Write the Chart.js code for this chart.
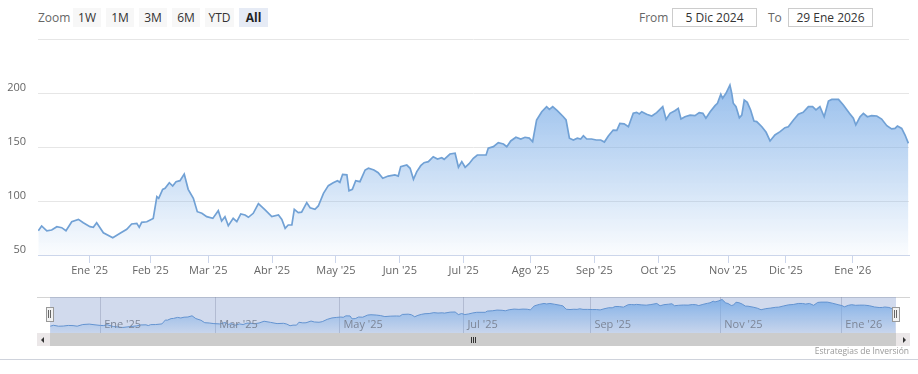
<!DOCTYPE html>
<html>
<head>
<meta charset="utf-8">
<script src="https://cdn.jsdelivr.net/npm/chart.js@4.4.1/dist/chart.umd.min.js"></script>
<style>
html,body{margin:0;padding:0;background:#fff;}
body{width:918px;height:374px;position:relative;overflow:hidden;font-family:"Open Sans",Arial,sans-serif;}
.lbl{position:absolute;top:8px;height:19px;line-height:19px;color:#666;font-size:12px;}
.btn{position:absolute;top:8px;height:19px;line-height:19px;background:#f7f7f7;color:#333;font-size:12px;text-align:center;}
.btn.sel{background:#e6ebf5;font-weight:bold;color:#222;}
.inp{position:absolute;top:8px;height:17px;line-height:17px;border:1px solid #cccccc;color:#333;font-size:12px;text-align:center;background:#fff;}
canvas{position:absolute;}
.bar{position:absolute;}
</style>
</head>
<body>
<div class="lbl" style="left:38px;">Zoom</div>
<div class="btn" style="left:73px;width:28px;">1W</div>
<div class="btn" style="left:106px;width:28px;">1M</div>
<div class="btn" style="left:139px;width:28px;">3M</div>
<div class="btn" style="left:172px;width:28px;">6M</div>
<div class="btn" style="left:205px;width:29px;">YTD</div>
<div class="btn sel" style="left:239px;width:29px;">All</div>
<div class="lbl" style="left:639px;">From</div>
<div class="inp" style="left:672px;width:83px;">5 Dic 2024</div>
<div class="lbl" style="left:768px;">To</div>
<div class="inp" style="left:788px;width:83px;">29 Ene 2026</div>

<canvas id="main" width="918" height="292" style="left:0;top:0;"></canvas>

<!-- navigator -->
<div class="bar" style="left:37px;top:297px;width:873px;height:1px;background:#d4d4d4;"></div>
<canvas id="nav" width="846" height="36" style="left:50px;top:297px;"></canvas>
<div class="bar" style="left:46px;top:307px;width:6px;height:13px;background:#f2f2f2;border:1px solid #999;"></div>
<div class="bar" style="left:48px;top:310px;width:1px;height:8px;background:#666;"></div>
<div class="bar" style="left:50px;top:310px;width:1px;height:8px;background:#666;"></div>
<div class="bar" style="left:892px;top:307px;width:6px;height:13px;background:#f2f2f2;border:1px solid #999;"></div>
<div class="bar" style="left:894px;top:310px;width:1px;height:8px;background:#666;"></div>
<div class="bar" style="left:896px;top:310px;width:1px;height:8px;background:#666;"></div>

<!-- scrollbar -->
<div class="bar" style="left:37px;top:333px;width:13px;height:13px;background:#ebe7e8;"></div>
<div class="bar" style="left:41px;top:337px;width:0;height:0;border-top:3px solid transparent;border-bottom:3px solid transparent;border-right:3px solid #333;"></div>
<div class="bar" style="left:50px;top:333px;width:846px;height:13px;background:#cccccc;"></div>
<div class="bar" style="left:471px;top:337px;width:1px;height:6px;background:#333;"></div>
<div class="bar" style="left:473px;top:337px;width:1px;height:6px;background:#333;"></div>
<div class="bar" style="left:475px;top:337px;width:1px;height:6px;background:#333;"></div>
<div class="bar" style="left:896px;top:333px;width:14px;height:13px;background:#ebe7e8;"></div>
<div class="bar" style="left:903px;top:337px;width:0;height:0;border-top:3px solid transparent;border-bottom:3px solid transparent;border-left:3px solid #333;"></div>

<div class="bar" style="left:0;top:359px;width:918px;height:1px;background:#cfd3dc;"></div>
<div class="bar" style="right:9px;top:345px;font-size:8.5px;color:#999;">Estrategias de Inversión</div>

<script>
// ---- data (x = trading session number since 5 Dic 2024, y = price) ----
const sessionIndex = [
  0.1,1.2,2.9,4.5,6.2,7.8,9.2,11.1,13.3,14.9,17.1,18.2,19.3,21.5,24.6,27.0,29.2,30.8,32.5,33.3,
  34.1,35.8,37.9,39.1,39.7,41.0,41.8,43.2,44.3,45.4,46.7,48.1,49.4,51.1,52.4,53.9,55.5,57.5,59.3,60.4,
  61.5,62.6,64.2,65.4,66.7,68.1,69.2,70.8,72.5,74.7,76.9,79.1,80.2,81.3,82.3,83.5,84.3,85.6,86.7,88.4,
  89.5,91.1,92.2,93.9,95.5,97.1,98.5,99.3,100.2,101.6,102.3,103.4,104.5,105.9,107.6,108.7,110.5,111.9,113.4,115.2,
  117.4,118.5,119.3,121.3,122.4,123.5,124.6,125.9,127.0,128.4,130.0,131.4,132.8,133.6,135.5,137.2,138.3,139.4,140.5,141.8,
  143.2,144.5,147.4,148.1,149.8,151.4,153.1,154.2,155.5,157.2,158.8,160.2,161.6,162.7,164.0,165.7,167.3,168.2,169.3,170.8,
  172.8,173.7,174.8,176.1,177.4,178.5,179.4,180.5,182.1,183.6,185.1,186.3,187.6,189.2,190.4,191.4,192.8,194.2,195.8,196.9,
  197.8,198.6,200.2,201.9,203.5,205.5,206.6,207.9,209.5,210.6,211.5,212.8,214.5,216.1,217.5,218.7,219.7,221.1,222.7,223.5,
  224.6,225.2,226.3,227.6,228.2,228.7,229.6,230.7,231.5,232.3,233.3,234.4,235.5,236.4,238.1,239.5,240.8,242.4,244.1,245.7,
  246.8,248.5,250.1,251.7,253.4,254.8,255.9,257.2,258.6,260.0,261.1,263.3,264.9,266.9,268.2,269.0,270.4,271.5,272.8,274.2,
  275.9,277.5,279.2,280.8,281.9,282.7,284.1,285.2,286.3
];
const price = [
  72.5,76.9,72.3,73.1,76.2,75.3,72.5,80.8,83.0,79.9,76.2,75.6,79.9,70.6,66.0,70.1,73.8,78.7,79.3,75.6,
  80.2,80.8,83.9,104.0,102.5,110.8,111.7,116.9,113.9,117.9,118.8,125.0,110.8,102.5,90.1,88.6,85.5,83.9,91.0,81.5,
  85.5,77.1,83.9,80.8,88.0,87.0,84.9,88.6,97.5,91.7,85.5,87.0,83.0,74.7,77.8,77.8,92.3,89.2,89.7,98.5,
  93.8,92.3,95.4,107.1,114.2,116.9,118.8,117.3,124.7,124.2,109.5,110.8,118.8,117.9,128.7,130.3,128.7,126.2,121.0,123.1,
  124.1,123.1,131.8,133.3,130.3,120.1,127.2,132.7,135.5,136.4,141.0,138.9,140.1,138.6,143.5,144.2,131.2,136.4,131.2,134.5,
  139.5,142.6,142.6,148.8,150.3,154.0,152.8,150.3,155.6,159.0,157.4,159.0,158.2,154.9,175.0,182.7,187.3,184.9,187.3,183.6,
  178.0,175.0,158.1,156.5,158.1,157.4,160.5,157.4,157.4,156.5,156.5,154.6,160.2,165.7,165.4,171.9,171.5,168.8,181.2,182.1,
  180.6,182.7,180.3,178.7,181.8,187.3,175.6,181.2,183.6,185.8,175.9,178.0,179.5,179.0,181.8,181.2,176.6,182.7,188.3,190.5,
  198.8,195.1,199.7,207.4,199.7,190.5,187.3,177.1,179.6,193.5,191.4,184.3,174.1,173.5,168.8,163.6,155.6,161.1,164.2,167.9,
  168.8,175.0,180.3,182.1,187.3,187.3,184.3,187.3,178.0,192.6,194.1,194.1,188.9,181.2,176.6,170.4,178.0,181.2,178.0,179.0,
  178.7,175.9,169.7,166.7,167.2,169.4,167.2,161.1,153.4
];
const monthTickIndex = [17,37,56,77,98,119,140,162,183,204,227,246,268];
const monthTickLabels = ["Ene '25","Feb '25","Mar '25","Abr '25","May '25","Jun '25","Jul '25","Ago '25","Sep '25","Oct '25","Nov '25","Dic '25","Ene '26"];
const navTickIndex = [17,56,98,140,183,227,268];
const navTickLabels = ["Ene '25","Mar '25","May '25","Jul '25","Sep '25","Nov '25","Ene '26"];
const yTickValues = [50,100,150,200,250];

const points = sessionIndex.map((x,i)=>({x:x, y:price[i]}));
const FONT = '"Open Sans", Arial, sans-serif';

function areaGradient(ctx, top, bottom, a0, a1){
  const g = ctx.createLinearGradient(0, top, 0, bottom);
  g.addColorStop(0, 'rgba(118,170,230,'+a0+')');
  g.addColorStop(1, 'rgba(118,170,230,'+a1+')');
  return g;
}

new Chart(document.getElementById('main'), {
  type: 'line',
  data: { datasets: [{
    data: points,
    borderColor: '#71a1d5',
    borderWidth: 1.7,
    pointRadius: 0,
    tension: 0,
    fill: 'start',
    backgroundColor: (c) => {
      const a = c.chart.chartArea;
      if (!a) return 'rgba(118,170,230,0.4)';
      return areaGradient(c.chart.ctx, a.top, a.bottom, 0.95, 0.03);
    }
  }]},
  options: {
    responsive: false, animation: false, devicePixelRatio: 1,
    layout: { padding: { top: 39, right: 9, left: 0, bottom: 0 } },
    plugins: { legend: { display: false }, tooltip: { enabled: false } },
    scales: {
      x: {
        type: 'linear', min: 0, max: 286.5,
        afterBuildTicks: s => { s.ticks = monthTickIndex.map(v => ({ value: v })); },
        afterFit: s => { s.height = 37; },
        grid: { drawOnChartArea: false, drawTicks: true, tickLength: 8, color: '#ccd6eb', tickColor: '#ccd6eb' },
        border: { display: true, color: '#ccd6eb' },
        ticks: { autoSkip: false, maxRotation: 0, padding: 1, color: '#666', font: { size: 11, family: FONT },
          callback: v => { const i = monthTickIndex.indexOf(v); return i >= 0 ? monthTickLabels[i] : ''; } }
      },
      y: {
        min: 50, max: 250,
        afterBuildTicks: s => { s.ticks = yTickValues.map(v => ({ value: v })); },
        afterFit: s => { s.width = 38; },
        grid: { color: '#e6e6e6', drawTicks: false },
        border: { display: false },
        ticks: { padding: 12, labelOffset: -5, color: '#666', font: { size: 11, family: FONT },
          callback: v => v === 250 ? '' : String(v) }
      }
    }
  }
});

const navDecor = {
  id: 'navDecor',
  beforeDraw(chart) {
    const { ctx, chartArea: a } = chart;
    ctx.save();
    ctx.fillStyle = 'rgba(102,133,194,0.3)';
    ctx.fillRect(a.left, a.top, a.right - a.left, a.bottom - a.top);
    ctx.restore();
  },
  afterDraw(chart) {
    const { ctx, chartArea: a, scales: { x } } = chart;
    ctx.save();
    ctx.font = '11px ' + FONT;
    ctx.fillStyle = '#7d8697';
    ctx.textBaseline = 'middle';
    ctx.textAlign = 'left';
    navTickIndex.forEach((v, i) => ctx.fillText(navTickLabels[i], x.getPixelForValue(v) + 4, a.bottom - 8));
    ctx.restore();
  }
};

new Chart(document.getElementById('nav'), {
  type: 'line',
  data: { datasets: [{
    data: points,
    borderColor: '#6393d0',
    borderWidth: 1,
    pointRadius: 0,
    tension: 0,
    fill: 'start',
    backgroundColor: (c) => {
      const a = c.chart.chartArea;
      if (!a) return 'rgba(118,170,230,0.4)';
      return areaGradient(c.chart.ctx, a.top, a.bottom, 0.9, 0.1);
    }
  }]},
  plugins: [navDecor],
  options: {
    responsive: false, animation: false, devicePixelRatio: 1,
    layout: { padding: 0 },
    plugins: { legend: { display: false }, tooltip: { enabled: false } },
    scales: {
      x: {
        type: 'linear', min: 0, max: 286.5,
        afterBuildTicks: s => { s.ticks = navTickIndex.map(v => ({ value: v })); },
        afterFit: s => { s.height = 0; },
        grid: { drawOnChartArea: true, drawTicks: false, color: 'rgba(120,130,160,0.35)' },
        border: { display: false },
        ticks: { display: false }
      },
      y: { display: false, min: 38, max: 220 }
    }
  }
});
</script>
</body>
</html>
